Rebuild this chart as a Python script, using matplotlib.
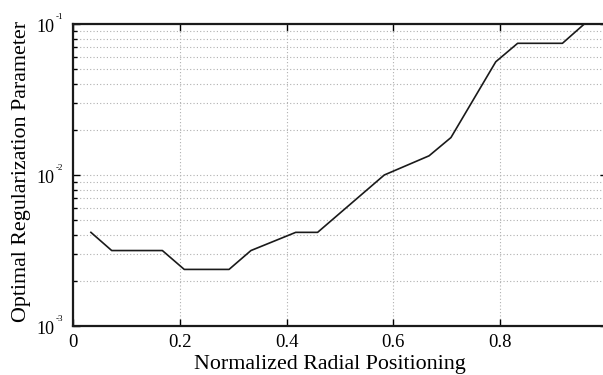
import math
import matplotlib
matplotlib.use("Agg")
import matplotlib.pyplot as plt
from matplotlib.ticker import FixedLocator, LogLocator, NullFormatter

# values
radial_pos = [0.033, 0.072, 0.167, 0.208, 0.292, 0.333, 0.417, 0.458, 0.583,
              0.667, 0.708, 0.792, 0.833, 0.917, 0.958]
reg_param = [0.00417, 0.00316, 0.00316, 0.00237, 0.00237, 0.00316, 0.00417, 0.00417, 0.0100,
             0.0134, 0.0177, 0.0562, 0.0745, 0.0745, 0.100]
x_ticks = [0, 0.2, 0.4, 0.6, 0.8, 1]
x_labels = ["0", "0.2", "0.4", "0.6", "0.8", "1"]
y_ticks = [1e-3, 1e-2, 1e-1]

plt.rcParams["font.family"] = "Liberation Serif"


def fit_text(fig, txt, target_px, size):
    # shrink/grow a label so it spans about target_px pixels
    r = fig.canvas.get_renderer()
    bb = txt.get_window_extent(r)
    span = max(bb.width, bb.height)
    txt.set_fontsize(size * target_px / span)


fig = plt.figure(figsize=(6.03, 3.75), dpi=100)
ax = fig.add_axes([73.3 / 603, 49 / 375, 533.4 / 603, 302 / 375])

ax.plot(radial_pos, reg_param, color="#1a1a1a", linewidth=1.2)

ax.set_yscale("log")
ax.set_xlim(0, 1)
ax.set_ylim(1e-3, 1e-1)

ax.xaxis.set_major_locator(FixedLocator(x_ticks))
ax.set_xticklabels(x_labels)
ax.yaxis.set_major_locator(FixedLocator(y_ticks))
ax.yaxis.set_minor_locator(LogLocator(base=10, subs=range(2, 10)))
ax.yaxis.set_minor_formatter(NullFormatter())
ax.set_yticklabels([])

# matlab style labels: "10" with a small raised exponent
for v in y_ticks:
    ax.annotate("10", xy=(0, v), xycoords=("axes fraction", "data"),
                xytext=(-13.5, -5.5), textcoords="offset points",
                ha="right", va="baseline", fontsize=13)
    ax.annotate("%d" % round(math.log10(v)), xy=(0, v), xycoords=("axes fraction", "data"),
                xytext=(-7.6, 3.6), textcoords="offset points",
                ha="right", va="baseline", fontsize=6.5)

ax.grid(True, which="major", color="#b0b0b0", linestyle=(0, (1, 2)), linewidth=0.8)
ax.grid(True, which="minor", axis="y", color="#b0b0b0", linestyle=(0, (1, 2)), linewidth=0.8)

for s in ax.spines.values():
    s.set_linewidth(1.6)
    s.set_color("#1a1a1a")

ax.tick_params(which="both", direction="in", top=True, right=True, labelsize=13.5)
ax.tick_params(axis="x", pad=6)
ax.tick_params(which="major", length=5, width=1)
ax.tick_params(which="minor", length=3, width=1)

xl = fig.text(329.7 / 603, 1 - 369.5 / 375, "Normalized Radial Positioning",
              ha="center", va="baseline", fontsize=15)
yl = fig.text(21.5 / 603, 1 - 171 / 375, "Optimal Regularization Parameter",
              rotation=90, ha="center", va="center", fontsize=15)
fit_text(fig, xl, 274, 15)
fit_text(fig, yl, 303, 15)

fig.savefig("out.png", dpi=100)
